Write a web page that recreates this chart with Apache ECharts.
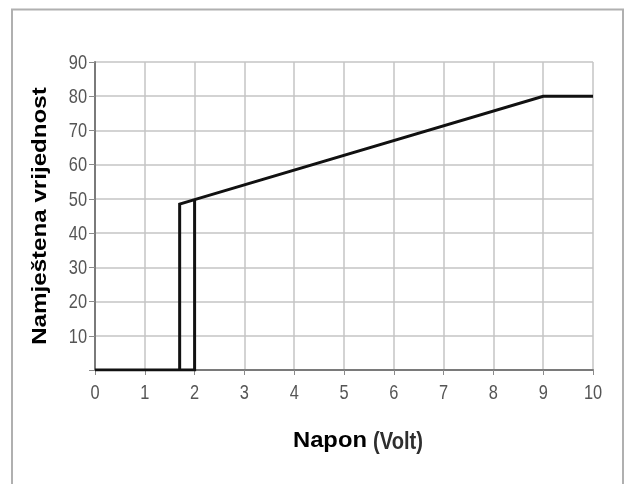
<!DOCTYPE html>
<html>
<head>
<meta charset="utf-8">
<script src="https://cdn.jsdelivr.net/npm/echarts@6/dist/echarts.min.js"></script>
<style>
  html, body { margin: 0; padding: 0; background: #fff; }
  #chart { width: 630px; height: 484px; }
</style>
</head>
<body>
<div id="chart"></div>
<script>
// Switching characteristic: rising branch and falling branch (hysteresis)
const xTicks = [0, 1, 2, 3, 4, 5, 6, 7, 8, 9, 10];
const yTicks = [0, 10, 20, 30, 40, 50, 60, 70, 80, 90];
const yLabelTicks = [10, 20, 30, 40, 50, 60, 70, 80, 90];

// Outer branch: zero until 2 V, then jumps up
const outerX = [0, 2, 2];
const outerY = [0, 0, 49.8];

// Inner branch: drops at 1.7 V, rises linearly to 80 at 9 V, then flat
const innerX = [1.7, 1.7, 2, 9, 10];
const innerY = [0, 48.5, 49.8, 80, 80];

const xTitle = 'Napon';
const xUnit = '(Volt)';
const yTitle = 'Namještena vrijednost';

const pairs = (xs, ys) => xs.map((x, i) => [x, ys[i]]);

const sans = "'Liberation Sans', Arial, sans-serif";
// no narrow face installed: tick labels are condensed with a horizontal scale
const NARROW = 0.78;

const chart = echarts.init(document.getElementById('chart'), null, { renderer: 'canvas' });
chart.setOption({
  animation: false,
  backgroundColor: '#ffffff',
  grid: { left: 95, right: 37, top: 62, bottom: 114 },
  xAxis: {
    type: 'value',
    min: xTicks[0],
    max: xTicks[xTicks.length - 1],
    interval: 1,
    axisLine: { show: true, onZero: false, lineStyle: { color: '#7a7a7a', width: 2 } },
    axisTick: { show: true, length: 5, lineStyle: { color: '#8a8a8a', width: 1 } },
    axisLabel: { show: false },
    splitLine: { show: true, lineStyle: { color: '#c4c4c4', width: 1.5 } }
  },
  yAxis: {
    type: 'value',
    min: yTicks[0],
    max: yTicks[yTicks.length - 1],
    interval: 10,
    axisLine: { show: true, onZero: false, lineStyle: { color: '#7a7a7a', width: 2 } },
    axisTick: { show: true, length: 6, lineStyle: { color: '#8a8a8a', width: 1 } },
    axisLabel: { show: false },
    splitLine: { show: true, lineStyle: { color: '#c4c4c4', width: 1.5 } }
  },
  series: [
    {
      type: 'line',
      data: pairs(outerX, outerY),
      showSymbol: false,
      lineStyle: { color: '#111', width: 3, join: 'miter' },
      z: 5
    },
    {
      type: 'line',
      data: pairs(innerX, innerY),
      showSymbol: false,
      lineStyle: { color: '#111', width: 3, join: 'miter' },
      z: 5
    }
  ]
});

// Tick labels placed through the axes' own scales
const xPix = v => chart.convertToPixel({ xAxisIndex: 0 }, v);
const yPix = v => chart.convertToPixel({ yAxisIndex: 0 }, v);
const axisY = yPix(0);
const axisX = xPix(0);

const tickStyle = { fontFamily: sans, fontSize: 21, fill: '#555' };

const xLabels = xTicks.map(v => ({
  type: 'text', silent: true,
  x: xPix(v), y: axisY + 23, scaleX: NARROW,
  style: Object.assign({ text: String(v), align: 'center', verticalAlign: 'middle' }, tickStyle)
}));

const yLabels = yLabelTicks.map(v => ({
  type: 'text', silent: true,
  x: axisX - 8, y: yPix(v) + 1, scaleX: NARROW,
  style: Object.assign({ text: String(v), align: 'right', verticalAlign: 'middle' }, tickStyle)
}));

chart.setOption({
  graphic: [
    {
      type: 'polyline', silent: true,
      shape: { points: [[12, 490], [12, 9.5], [623, 9.5], [623, 490]] },
      style: { stroke: '#b0b0b0', lineWidth: 2, fill: null }
    },
    {
      // vertical axis title, slightly stretched along its length
      type: 'text', silent: true,
      x: 40, y: 216,
      rotation: Math.PI / 2,
      scaleX: 1.15,
      style: {
        text: yTitle,
        fontFamily: sans, fontWeight: 'bold', fontSize: 21, fill: '#000',
        align: 'center', verticalAlign: 'middle'
      }
    },
    {
      type: 'text', silent: true,
      x: 293, y: 441,
      scaleX: 1.08,
      style: {
        text: xTitle,
        fontFamily: sans, fontWeight: 'bold', fontSize: 22, fill: '#000',
        align: 'left', verticalAlign: 'middle'
      }
    },
    {
      type: 'text', silent: true,
      x: 373, y: 442,
      scaleX: 0.84,
      style: {
        text: xUnit,
        fontFamily: sans, fontWeight: 'bold', fontSize: 24, fill: '#2e2e2e',
        align: 'left', verticalAlign: 'middle'
      }
    }
  ].concat(xLabels, yLabels)
});
</script>
</body>
</html>
